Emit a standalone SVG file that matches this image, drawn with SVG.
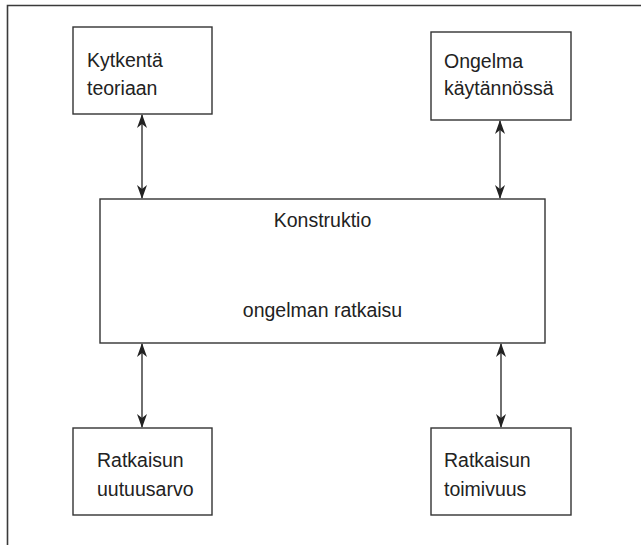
<svg xmlns="http://www.w3.org/2000/svg" width="641" height="545" viewBox="0 0 641 545">
<defs>
<style>
.frame{fill:none;stroke:#3a3a3a;stroke-width:1.6}
.box{fill:#fff;stroke:#333;stroke-width:1.4}
.lbl{font-family:"Liberation Sans",Arial,sans-serif;font-size:19.5px;fill:#222}
.conn{stroke:#222;stroke-width:1.3;fill:none;marker-start:url(#ah);marker-end:url(#ah)}
</style>
<marker id="ah" viewBox="0 0 14 10" refX="13" refY="5" markerWidth="14" markerHeight="10" markerUnits="userSpaceOnUse" orient="auto-start-reverse">
<path d="M0,0 L14,5 L0,10 L4,5 z" fill="#222"/>
</marker>
</defs>
<g id="frame">
<path class="frame" d="M7.5,545 L7.5,5.5 L641,5.5"/>
</g>
<g id="connectors">
<line class="conn" x1="142" y1="115" x2="142" y2="198"/>
<line class="conn" x1="500" y1="121" x2="500" y2="198"/>
<line class="conn" x1="142" y1="344" x2="142" y2="427"/>
<line class="conn" x1="501" y1="344" x2="501" y2="427"/>
</g>
<g id="n-kytkenta">
<rect class="box" x="73" y="27" width="139" height="87"/>
<text class="lbl" x="87" y="67">Kytkentä</text>
<text class="lbl" x="87" y="95">teoriaan</text>
</g>
<g id="n-ongelma">
<rect class="box" x="431" y="32" width="140" height="88"/>
<text class="lbl" x="444" y="68">Ongelma</text>
<text class="lbl" x="444" y="95">käytännössä</text>
</g>
<g id="n-konstruktio">
<rect class="box" x="100" y="199" width="445" height="144"/>
<text class="lbl" x="322.5" y="227" text-anchor="middle">Konstruktio</text>
<text class="lbl" x="322.5" y="317" text-anchor="middle">ongelman ratkaisu</text>
</g>
<g id="n-uutuusarvo">
<rect class="box" x="73" y="428" width="139" height="87"/>
<text class="lbl" x="97" y="467">Ratkaisun</text>
<text class="lbl" x="97" y="496">uutuusarvo</text>
</g>
<g id="n-toimivuus">
<rect class="box" x="431" y="428" width="140" height="87"/>
<text class="lbl" x="444" y="467">Ratkaisun</text>
<text class="lbl" x="444" y="496">toimivuus</text>
</g>
</svg>
